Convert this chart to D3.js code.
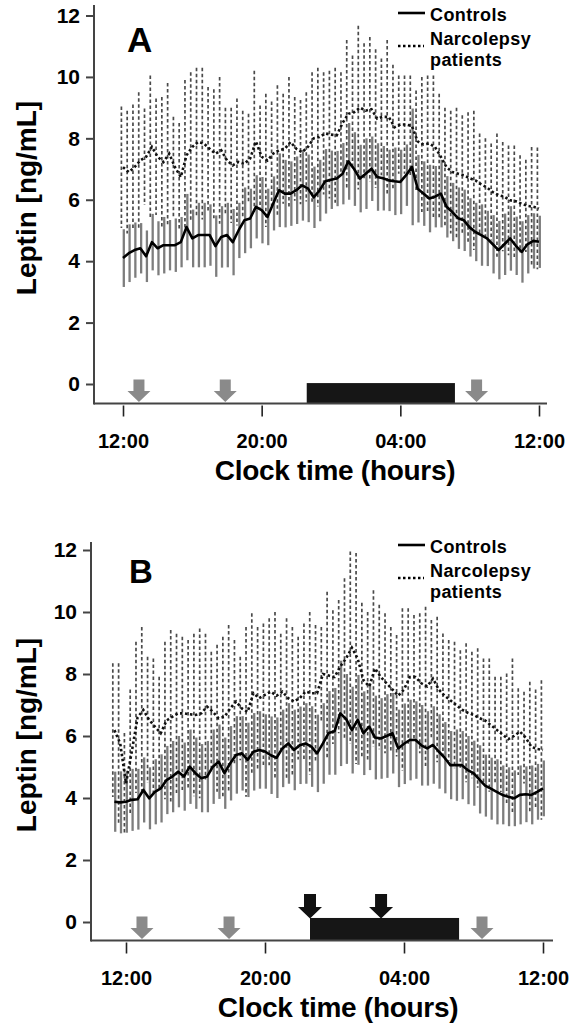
<!DOCTYPE html>
<html><head><meta charset="utf-8">
<script src="https://cdn.jsdelivr.net/npm/d3@7/dist/d3.min.js"></script>
<style>
body{margin:0;background:#fff}
svg{display:block}
text{font-family:"Liberation Sans",Arial,Helvetica,sans-serif}
</style>
</head><body>
<svg id="chart" width="576" height="1023"></svg>
<script>
// ---------- DATA ----------
// sampling: one value every 20 min; hours counted from 12:00 (noon)
const sampleStepHours = 20 / 60;
const firstSampleA = 0;      // 12:00
const firstSampleB = -2;     // 11:20 (two samples before noon)

const xTickHours = [0, 8, 16, 24];
const xTickLabels = ["12:00", "20:00", "04:00", "12:00"];
const yTicks = [0, 2, 4, 6, 8, 10, 12];

// Panel A
const ctrlMeanA = [4.10,4.26,4.36,4.42,4.16,4.62,4.42,4.52,4.52,4.52,
  4.62,5.11,4.74,4.85,4.85,4.85,4.49,4.79,4.85,4.62,
  5.00,5.33,5.39,5.77,5.66,5.44,5.88,6.31,6.20,6.20,
  6.31,6.47,6.37,6.08,6.30,6.60,6.65,6.69,6.85,7.25,
  7.00,6.69,6.85,7.01,6.74,6.70,6.63,6.60,6.58,6.80,
  7.07,6.36,6.20,6.04,6.10,6.20,5.77,5.60,5.40,5.33,
  5.10,4.95,4.85,4.74,4.55,4.36,4.55,4.74,4.50,4.30,4.55,4.66,4.63];
const ctrlSdA = [0.94,0.94,0.90,0.82,0.84,0.92,0.88,0.92,0.82,0.87,
  0.82,1.08,0.94,1.05,1.05,1.00,1.00,1.00,1.05,1.08,
  0.90,1.07,0.97,1.03,1.08,0.92,0.88,1.20,1.10,1.05,
  1.10,1.15,1.10,1.00,1.00,1.05,0.95,0.90,1.00,1.25,
  1.20,1.10,1.15,1.05,1.10,1.05,1.00,1.10,1.05,1.00,
  1.90,1.10,1.05,1.10,1.00,1.10,1.00,0.95,1.00,1.00,
  0.95,0.95,1.00,0.90,0.95,0.95,1.00,1.05,0.95,1.00,0.95,0.90,0.85];
const narcMeanA = [7.06,6.90,7.06,7.28,7.40,7.72,7.40,7.23,7.50,7.06,
  6.74,7.45,7.72,7.88,7.83,7.66,7.50,7.61,7.28,7.12,
  7.23,7.17,7.34,7.90,7.40,7.28,7.50,7.61,7.66,7.88,
  7.66,7.55,7.72,8.00,8.04,8.16,8.12,8.10,8.50,8.80,
  8.85,9.00,8.90,8.95,8.64,8.70,8.70,8.36,8.45,8.45,
  8.40,7.90,7.80,7.83,7.72,7.40,7.06,6.90,6.85,6.80,
  6.70,6.63,6.50,6.40,6.25,6.15,6.10,5.98,5.95,5.87,5.80,5.77,5.72];
const narcTopA = [9.04,8.90,9.10,9.50,8.97,10.05,9.30,9.35,9.80,8.70,
  8.50,9.90,10.15,10.30,10.30,9.67,9.60,10.00,9.00,9.00,
  9.30,8.90,8.80,10.20,9.07,9.45,9.20,9.73,9.45,10.00,
  9.35,9.25,9.50,10.15,10.30,10.15,10.20,10.30,10.15,11.20,
  10.70,11.67,11.10,11.30,10.90,10.60,11.20,10.40,10.05,10.05,
  10.05,9.56,10.00,10.05,10.05,9.45,9.00,8.90,9.00,8.75,
  8.85,8.90,8.16,8.00,7.83,8.16,7.88,7.77,7.77,7.45,7.30,7.72,7.70];

// Panel B
const ctrlMeanB = [3.88,3.86,3.88,3.94,3.96,4.26,3.99,4.20,4.31,4.58,
  4.69,4.85,4.69,5.01,4.80,4.64,4.69,5.01,5.17,4.80,
  5.12,5.39,5.44,5.23,5.49,5.55,5.50,5.38,5.30,5.60,
  5.76,5.55,5.70,5.76,5.66,5.44,5.76,6.10,6.15,6.73,
  6.55,6.19,6.52,6.09,6.30,5.95,5.92,6.00,6.09,5.60,
  5.75,5.87,5.87,5.70,5.60,5.71,5.50,5.30,5.06,5.06,
  5.06,4.90,4.80,4.60,4.40,4.30,4.20,4.10,4.04,3.99,4.10,4.12,4.10,4.20,4.31];
const ctrlSdB = [0.97,1.00,1.00,1.00,0.98,1.05,1.00,1.05,1.10,1.10,
  1.15,1.15,1.10,1.20,1.15,1.10,1.15,1.20,1.20,1.15,
  1.20,1.25,1.20,1.20,1.25,1.25,1.20,1.25,1.30,1.25,
  1.30,1.30,1.25,1.30,1.30,1.25,1.30,1.35,1.40,1.70,
  1.45,1.40,1.45,1.35,1.40,1.35,1.30,1.35,1.30,1.25,
  1.30,1.30,1.25,1.30,1.20,1.25,1.20,1.15,1.10,1.15,
  1.10,1.10,1.05,1.10,1.00,1.00,1.05,0.95,0.95,0.90,0.95,0.90,0.95,0.90,0.90];
const narcMeanB = [6.19,5.76,4.47,5.50,6.60,6.84,6.52,6.30,6.09,6.50,
  6.62,6.73,6.73,6.70,6.68,6.73,6.95,6.78,6.57,6.62,
  6.89,7.11,6.89,6.78,7.38,7.22,7.33,7.43,7.30,7.43,
  7.22,7.11,7.22,7.43,7.38,7.38,8.00,7.95,7.90,8.24,
  8.50,8.85,8.50,7.80,7.60,8.18,7.90,7.70,7.50,7.30,
  7.50,7.90,7.90,7.70,7.60,7.85,7.50,7.30,7.15,7.00,
  6.85,6.75,6.68,6.58,6.50,6.35,6.20,6.05,5.90,6.00,6.14,5.95,5.65,5.58,5.55];
const narcTopB = [8.35,8.35,6.10,7.50,9.04,9.52,8.56,8.50,7.91,9.04,
  9.42,9.30,9.20,9.10,9.30,9.47,9.30,8.72,8.94,9.20,
  9.58,9.10,8.56,9.52,9.96,9.52,9.63,9.80,10.00,9.30,
  9.80,9.52,9.20,9.63,10.00,9.58,9.52,10.65,10.06,10.39,
  11.09,11.95,11.90,10.30,10.00,10.70,10.23,9.96,9.52,9.26,
  10.12,10.12,9.90,9.96,10.17,9.74,9.85,9.31,9.10,9.04,
  8.77,8.99,8.72,8.83,8.50,8.50,7.91,7.91,8.02,8.50,7.54,7.43,7.75,7.50,7.80];

// markers (hours from 12:00)
const mealArrowsA = [0.92, 5.9, 20.4];
const lightsOffA = [10.6, 19.15];
const mealArrowsB = [0.92, 5.93, 20.49];
const lightsOffB = [10.59, 19.17];
const blackArrowsB = [10.59, 14.68];

const legendLabels = ["Controls", "Narcolepsy", "patients"];

// ---------- DRAW ----------
const svg = d3.select("#chart");

function arrowPath(cx, top, shaftW, headW, headStart, tip) {
  const p = d3.path();
  p.moveTo(cx - shaftW/2, top);
  p.lineTo(cx + shaftW/2, top);
  p.lineTo(cx + shaftW/2, headStart);
  p.lineTo(cx + headW/2, headStart);
  p.lineTo(cx, tip);
  p.lineTo(cx - headW/2, headStart);
  p.lineTo(cx - shaftW/2, headStart);
  p.closePath();
  return p.toString();
}

function drawPanel(P) {
  const g = svg.append("g");
  const x = d3.scaleLinear().domain([0, 24]).range([P.x0, P.x24]);
  const y = d3.scaleLinear().domain([0, 12]).range([P.yZero, P.yTwelve]);

  const pts = P.ctrlMean.map((v, i) => ({
    h: (P.first + i) * sampleStepHours,
    cm: v, cs: P.ctrlSd[i], nm: P.narcMean[i], nt: P.narcTop[i]
  }));

  // narcolepsy error bars (dashed)
  g.append("g").selectAll("line").data(pts).join("line")
    .attr("x1", d => x(d.h) - 1.6).attr("x2", d => x(d.h) - 1.6)
    .attr("y1", d => y(d.nt)).attr("y2", d => y(2 * d.nm - d.nt))
    .attr("stroke", "#4a4a4a").attr("stroke-width", 1.7)
    .attr("stroke-dasharray", "3.5,2.5");

  // control error bars (solid gray)
  g.append("g").selectAll("line").data(pts).join("line")
    .attr("x1", d => x(d.h) + 0.8).attr("x2", d => x(d.h) + 0.8)
    .attr("y1", d => y(d.cm + d.cs)).attr("y2", d => y(d.cm - d.cs))
    .attr("stroke", "#7d7d7d").attr("stroke-width", 2.3);

  // mean lines
  const lnC = d3.line().x(d => x(d.h)).y(d => y(d.cm));
  const lnN = d3.line().x(d => x(d.h)).y(d => y(d.nm));
  g.append("path").attr("d", lnN(pts)).attr("fill", "none")
    .attr("stroke", "#111").attr("stroke-width", 2.6).attr("stroke-dasharray", "2.5,2.5");
  g.append("path").attr("d", lnC(pts)).attr("fill", "none")
    .attr("stroke", "#000").attr("stroke-width", 2.6).attr("stroke-linejoin", "round");

  // lights-off bar
  g.append("rect")
    .attr("x", x(P.lights[0])).attr("width", x(P.lights[1]) - x(P.lights[0]))
    .attr("y", y(P.barTop)).attr("height", P.axisY - y(P.barTop))
    .attr("fill", "#161616");

  // gray arrows
  g.append("g").selectAll("path").data(P.meals).join("path")
    .attr("d", d => arrowPath(x(d), P.axisY - 24, 11, 23, P.axisY - 12.5, P.axisY - 1.5))
    .attr("fill", "#8a8a8a");
  // black arrows
  if (P.blackArrows) {
    g.append("g").selectAll("path").data(P.blackArrows).join("path")
      .attr("d", d => arrowPath(x(d), y(P.barTop) - 24, 12, 24, y(P.barTop) - 11, y(P.barTop) + 0.5))
      .attr("fill", "#111");
  }

  // axes lines
  const axCol = "#444";
  g.append("line").attr("x1", P.axisX).attr("x2", P.axisX)
    .attr("y1", P.axisTop).attr("y2", P.axisY + 1)
    .attr("stroke", axCol).attr("stroke-width", 2);
  g.append("line").attr("x1", P.axisX).attr("x2", P.axisRight)
    .attr("y1", P.axisY).attr("y2", P.axisY)
    .attr("stroke", axCol).attr("stroke-width", 2);

  // y axis ticks & labels
  const ya = g.append("g").attr("transform", `translate(${P.axisX},0)`)
    .call(d3.axisLeft(y).tickValues(yTicks).tickSize(8).tickPadding(6).tickFormat(d3.format("d")));
  ya.select(".domain").remove();
  ya.selectAll("line").attr("stroke", axCol).attr("stroke-width", 2);
  ya.selectAll("text").attr("font-size", 21).attr("font-weight", "bold")
    .attr("fill", "#000").attr("font-family", "'Liberation Sans',Arial,sans-serif");

  // x axis ticks & labels
  const xa = g.append("g").attr("transform", `translate(0,${P.axisY + 2})`)
    .call(d3.axisBottom(x).tickValues(xTickHours).tickSize(11).tickPadding(17)
      .tickFormat((d, i) => xTickLabels[i]));
  xa.select(".domain").remove();
  xa.selectAll("line").attr("stroke", "#222").attr("stroke-width", 1.6);
  xa.selectAll("text").attr("font-size", 20).attr("font-weight", "bold")
    .attr("fill", "#000").attr("font-family", "'Liberation Sans',Arial,sans-serif");

  // axis titles
  g.append("text").attr("x", P.titleX).attr("y", P.titleY)
    .attr("text-anchor", "middle").attr("font-size", 28).attr("font-weight", "bold")
    .attr("letter-spacing", -0.3)
    .text("Clock time (hours)");
  g.append("text")
    .attr("transform", `translate(${P.ylabX},${P.ylabY}) rotate(-90)`)
    .attr("text-anchor", "middle").attr("font-size", 28).attr("font-weight", "bold")
    .text("Leptin [ng/mL]");

  // panel letter
  g.append("text").attr("x", P.letterX).attr("y", P.letterY)
    .attr("font-size", P.letterSize).attr("font-weight", "bold").text(P.letter);

  // legend
  const L = g.append("g");
  L.append("line").attr("x1", 398).attr("x2", 425).attr("y1", P.legY + 0).attr("y2", P.legY + 0)
    .attr("stroke", "#000").attr("stroke-width", 2.6);
  L.append("line").attr("x1", 398).attr("x2", 424).attr("y1", P.legY + 33).attr("y2", P.legY + 33)
    .attr("stroke", "#000").attr("stroke-width", 2.6).attr("stroke-dasharray", "2.5,2.5");
  const legFont = {size: 18, weight: "bold", spacing: 0.4};
  [[legendLabels[0], 8], [legendLabels[1], 32], [legendLabels[2], 52.5]].forEach(([t, dy]) => {
    L.append("text").attr("x", 430).attr("y", P.legY + dy)
      .attr("font-size", legFont.size).attr("font-weight", legFont.weight)
      .attr("letter-spacing", legFont.spacing).text(t);
  });
}

drawPanel({
  letter: "A", letterX: 127, letterY: 52, letterSize: 35,
  first: firstSampleA,
  ctrlMean: ctrlMeanA, ctrlSd: ctrlSdA, narcMean: narcMeanA, narcTop: narcTopA,
  meals: mealArrowsA, lights: lightsOffA, barTop: 0.03, blackArrows: null,
  x0: 123, x24: 539, yZero: 384, yTwelve: 15.5,
  axisX: 94, axisTop: 5, axisY: 403.5, axisRight: 547,
  titleX: 335, titleY: 480, ylabX: 36, ylabY: 198, legY: 13
});

drawPanel({
  letter: "B", letterX: 129, letterY: 583, letterSize: 33,
  first: firstSampleB,
  ctrlMean: ctrlMeanB, ctrlSd: ctrlSdB, narcMean: narcMeanB, narcTop: narcTopB,
  meals: mealArrowsB, lights: lightsOffB, barTop: 0.13, blackArrows: blackArrowsB,
  x0: 126, x24: 543, yZero: 922, yTwelve: 550,
  axisX: 91, axisTop: 542, axisY: 940.5, axisRight: 553,
  titleX: 338, titleY: 1017, ylabX: 36, ylabY: 735, legY: 545
});
</script>
</body></html>
